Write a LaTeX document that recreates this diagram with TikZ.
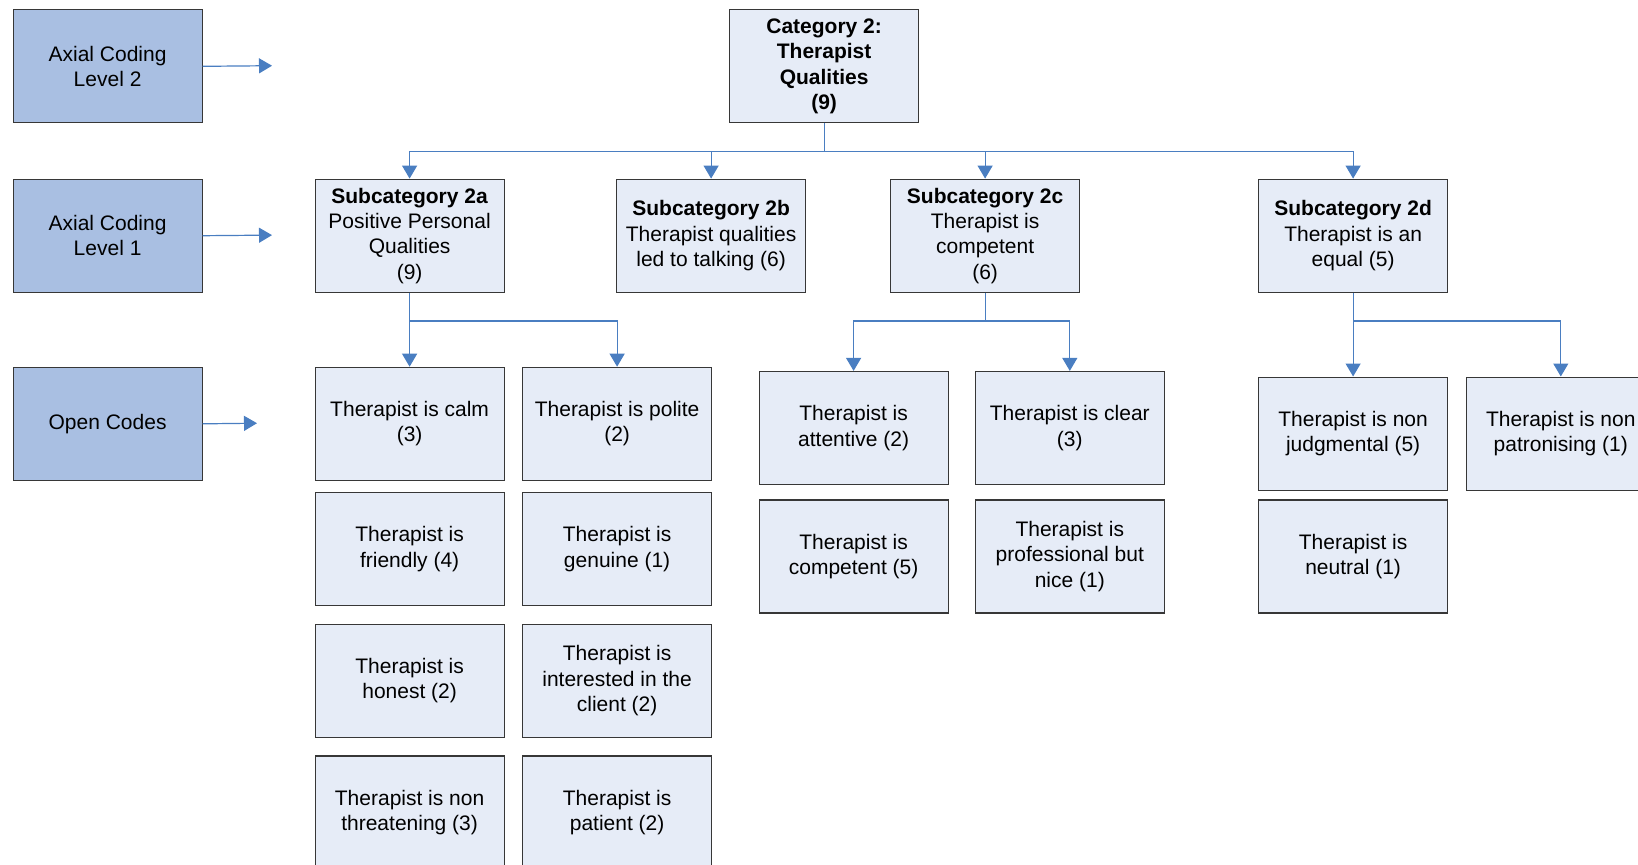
\documentclass[tikz,border=0pt]{standalone}
\usepackage{fontspec}
\setmainfont{Liberation Sans}
\usetikzlibrary{arrows.meta,positioning}
\definecolor{lvlfill}{RGB}{169,191,226}
\definecolor{boxfill}{RGB}{230,236,247}
\definecolor{linkblue}{RGB}{74,126,193}
\definecolor{boxline}{RGB}{55,55,55}
\tikzset{
  box/.style={draw=boxline, line width=0.6pt, fill=boxfill, anchor=north west,
    minimum width=94.5pt, minimum height=56.5pt, inner sep=0pt, align=center,
    font=\fontsize{10.5}{12.7}\selectfont},
  lvlbox/.style={box, fill=lvlfill},
  link/.style={draw=linkblue, line width=0.6pt},
  linkarrow/.style={link, -{Triangle[length=6.5pt,width=7.5pt]}},
}

\begin{document}
\begin{tikzpicture}[x=0.5pt,y=-0.5pt]
        \useasboundingbox (0,0) rectangle (1638,864);
        \clip (0,0) rectangle (1638,864);

        % levels
        \node[lvlbox] (lvltwo) at (12.5,9.2) {Axial Coding\\Level 2};
        \node[lvlbox] (lvlone) at (12.5,178.6) {Axial Coding\\Level 1};
        \node[lvlbox] (opencodes) at (12.5,366.7) {Open Codes};
        \coordinate (lvltwoend) at (272,65.7);
        \coordinate (lvloneend) at (272,235.1);
        \coordinate (openend) at (257,423.2);
        \draw[linkarrow] (lvltwo.east) -- (lvltwoend);
        \draw[linkarrow] (lvlone.east) -- (lvloneend);
        \draw[linkarrow] (opencodes.east) -- (openend);

        % category and subcategories
        \node[box] (cat) at (729,9.2) {\textbf{Category 2:}\\\textbf{Therapist}\\\textbf{Qualities}\\\textbf{(9)}};
        \node[box] (sa) at (314.5,178.6) {\textbf{Subcategory 2a}\\Positive Personal\\Qualities\\(9)};
        \node[box] (sb) at (616,178.6) {\textbf{Subcategory 2b}\\Therapist qualities\\led to talking (6)};
        \node[box] (sc) at (890,178.6) {\textbf{Subcategory 2c}\\Therapist is\\competent\\(6)};
        \node[box] (sd) at (1258,178.6) {\textbf{Subcategory 2d}\\Therapist is an\\equal (5)};

        \draw[link] (cat.south) -- ++(0,28.2) coordinate (catbus);
        \draw[linkarrow] (catbus) -| (sa.north);
        \draw[linkarrow] (catbus) -| (sb.north);
        \draw[linkarrow] (catbus) -| (sc.north);
        \draw[linkarrow] (catbus) -| (sd.north);

        % open codes 2a
        \node[box] (a1) at (314.5,366.7) {Therapist is calm\\(3)};
        \node[box] (a2) at (522,366.7) {Therapist is polite\\(2)};
        \node[box] (a3) at (314.5,492.1) {Therapist is\\friendly (4)};
        \node[box] (a4) at (522,492.1) {Therapist is\\genuine (1)};
        \node[box] (a5) at (314.5,623.7) {Therapist is\\honest (2)};
        \node[box] (a6) at (522,623.7) {Therapist is\\interested in the\\client (2)};
        \node[box] (a7) at (314.5,755.3) {Therapist is non\\threatening (3)};
        \node[box] (a8) at (522,755.3) {Therapist is\\patient (2)};
        \draw[link] (sa.south) -- ++(0,28.2) coordinate (sabus);
        \draw[linkarrow] (sabus) -- (a1.north);
        \draw[linkarrow] (sabus) -| (a2.north);

        % open codes 2c
        \node[box] (c1) at (758.5,370.9) {Therapist is\\attentive (2)};
        \node[box] (c2) at (974.7,370.9) {Therapist is clear\\(3)};
        \node[box] (c3) at (758.5,499.4) {Therapist is\\competent (5)};
        \node[box] (c4) at (974.7,499.4) {Therapist is\\professional but\\nice (1)};
        \draw[link] (sc.south) -- ++(0,28.2) coordinate (scbus);
        \draw[linkarrow] (scbus) -| (c1.north);
        \draw[linkarrow] (scbus) -| (c2.north);

        % open codes 2d
        \node[box] (d1) at (1258,376.5) {Therapist is non\\judgmental (5)};
        \node[box] (d2) at (1465.7,376.5) {Therapist is non\\patronising (1)};
        \node[box] (d3) at (1258,499.4) {Therapist is\\neutral (1)};
        \draw[link] (sd.south) -- ++(0,28.2) coordinate (sdbus);
        \draw[linkarrow] (sdbus) -- (d1.north);
        \draw[linkarrow] (sdbus) -| (d2.north);
\end{tikzpicture}
\end{document}
